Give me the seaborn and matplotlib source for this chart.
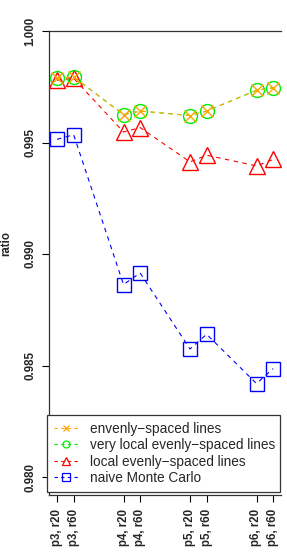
import numpy as np
import pandas as pd
import matplotlib
matplotlib.use("Agg")
import matplotlib.pyplot as plt
import seaborn as sns
from matplotlib.lines import Line2D

# ---- data ----
categories = ["p3, r20", "p3, r60", "p4, r20", "p4, r60",
              "p5, r20", "p5, r60", "p6, r20", "p6, r60"]
p_values = [3, 3, 4, 4, 5, 5, 6, 6]
r_values = [20, 60, 20, 60, 20, 60, 20, 60]

evenly = [0.99787, 0.99794, 0.99625, 0.99641, 0.99621, 0.99641, 0.99734, 0.99746]
very_local = [0.99787, 0.99794, 0.99625, 0.99641, 0.99621, 0.99641, 0.99734, 0.99746]
local = [0.99779, 0.99788, 0.99547, 0.99567, 0.99413, 0.99443, 0.99395, 0.99424]
naive = [0.99514, 0.99535, 0.98863, 0.98915, 0.98574, 0.98640, 0.98419, 0.98486]

series_names = ["envenly\u2212spaced lines", "very local evenly\u2212spaced lines",
                "local evenly\u2212spaced lines", "naive Monte Carlo"]
series_values = [evenly, very_local, local, naive]
yticks = [0.980, 0.985, 0.990, 0.995, 1.000]

# ---- styles ----
colors = ["#FFA500", "#00EE00", "#FF0000", "#0000FF"]
markers = ["x", "o", "^", "s"]
msizes = [8, 10, 12, 10.5]
leg_msizes = [5, 5, 6, 5.5]

sns.set_style("white")
plt.rcParams['font.family'] = ['Liberation Sans', 'DejaVu Sans']

W, H = 287, 554
fig = plt.figure(figsize=(W / 100, H / 100), dpi=100)
L, R, T, B = 49, 281, 31, 495
ax = fig.add_axes([L / W, (H - B) / H, (R - L) / W, (B - T) / H])

pos = [p + (0.25 if r == 60 else 0.0) for p, r in zip(p_values, r_values)]
rows = []
for name, vals in zip(series_names, series_values):
    for x, c, v in zip(pos, categories, vals):
        rows.append({"series": name, "pos": x, "cat": c, "ratio": v})
df = pd.DataFrame(rows)

draw_order = [3, 2, 1, 0]
for i in draw_order:
    sub = df[df["series"] == series_names[i]]
    sns.lineplot(data=sub, x="pos", y="ratio", ax=ax, color=colors[i],
                 linestyle=(0, (4, 4)), linewidth=0.8,
                 marker=markers[i], markersize=msizes[i],
                 markerfacecolor="none", markeredgecolor=colors[i],
                 markeredgewidth=1.0, legend=False, zorder=3)

x0 = 3 - (57 - L) / 66.5
x1 = 3 + (R - 57) / 66.5
ax.set_xlim(x0, x1)
ypx = 111.5 / 0.005
ax.set_ylim(0.980 - (B - 477) / ypx, 0.995 + (142 - T) / ypx)

ax.set_xticks(pos)
ax.set_xticklabels(categories, rotation=90, fontsize=8.3, fontweight="bold",
                   va="top", ha="center")
ax.set_yticks(yticks)
ax.set_yticklabels(["%.3f" % v for v in yticks], rotation=90, fontsize=8.3,
                   fontweight="bold", va="center", ha="right")
ax.tick_params(axis="both", direction="out", length=5, width=0.8, color="black",
               bottom=True, left=True)
ax.tick_params(axis="x", pad=5)
ax.tick_params(axis="y", pad=4)
ax.set_xlabel("")
ax.set_ylabel("")
for s in ["top", "left", "bottom"]:
    ax.spines[s].set_visible(True)
    ax.spines[s].set_color("#333333")
    ax.spines[s].set_linewidth(0.9)
ax.spines["right"].set_visible(False)
ax.grid(False)

fig.text(6 / W, 1 - 243 / H, "ratio", rotation=90, fontsize=8.3,
         fontweight="bold", ha="center", va="center")

handles = [Line2D([], [], color=colors[i], linestyle=(0, (3, 3)), linewidth=0.8,
                  marker=markers[i], markersize=leg_msizes[i],
                  markerfacecolor="none", markeredgecolor=colors[i],
                  markeredgewidth=0.9) for i in range(4)]
lx0, lx1, ly0, ly1 = 47, 280, 415, 494
leg = fig.legend(handles, series_names,
                 loc="upper left",
                 bbox_to_anchor=(lx0 / W, 1 - ly1 / H, (lx1 - lx0) / W, (ly1 - ly0) / H),
                 mode="expand", fontsize=9.8, frameon=True, fancybox=False,
                 handlelength=1.8, handletextpad=0.85, borderpad=0.5,
                 labelspacing=0.18, borderaxespad=0.0)
leg.get_frame().set_edgecolor("#333333")
leg.get_frame().set_linewidth(0.9)
leg.get_frame().set_facecolor("white")
leg.get_frame().set_alpha(1.0)

fig.savefig("out.png", dpi=100, facecolor="white")
